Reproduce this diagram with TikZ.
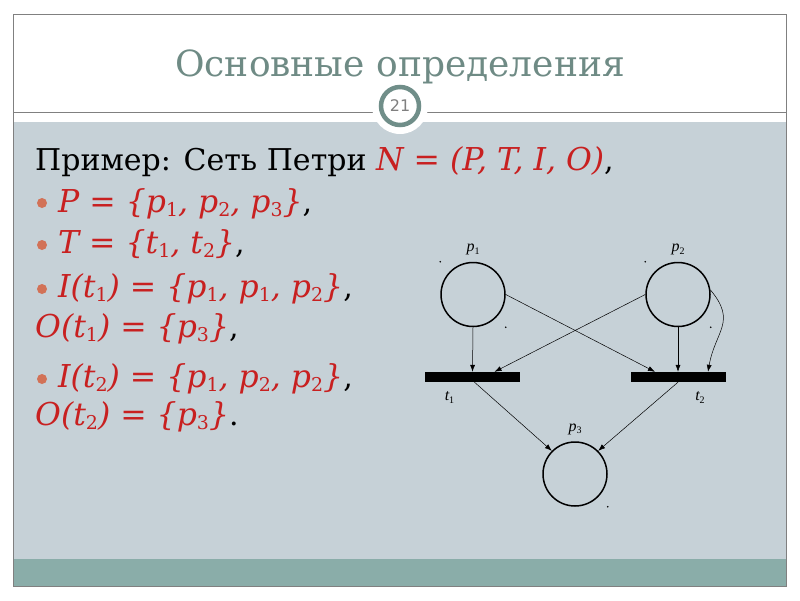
\documentclass[tikz,border=0pt]{standalone}
\usepackage{fontspec}
\setmainfont{DejaVu Serif}
\newfontfamily\titlefont{DejaVu Serif}
\newfontfamily\badgefont{DejaVu Sans}
\newfontfamily\petrifont{Liberation Serif}
\usetikzlibrary{positioning, calc, arrows.meta}
\definecolor{slideG}{RGB}{198, 209, 215}
\definecolor{slideT}{RGB}{138, 173, 169}
\definecolor{titleC}{RGB}{111, 139, 133}
\definecolor{ringC}{RGB}{112, 142, 137}
\definecolor{redC}{RGB}{200, 32, 32}
\definecolor{bulC}{RGB}{210, 114, 87}
\newcommand\rd[1]{{\color{redC}\fontsize{31.5}{34}\selectfont\itshape #1}}
\newcommand\sbx[1]{\raisebox{-0.3ex}{\fontsize{19}{19}\selectfont\upshape #1}}
\newcommand\pl[2]{{\petrifont\itshape #1\raisebox{-0.35ex}{\fontsize{10}{10}\selectfont\upshape #2}}}
\tikzset{
  place/.style={circle, draw, line width=1.5pt, minimum size=64pt, inner sep=0pt},
  trans/.style={rectangle, fill=black, minimum width=95pt, minimum height=10pt, inner sep=0pt},
  arc/.style={-{Latex[length=7pt,width=5pt]}, line width=0.5pt},
  plabel/.style={font=\fontsize{16}{16}\selectfont, label distance=3pt},
  line/.style={anchor=base west, inner sep=0pt, font=\fontsize{30}{34}\selectfont},
  bullet/.style={circle, fill=bulC, inner sep=0pt, minimum size=10pt}
}

\begin{document}
\begin{tikzpicture}[x=1pt, y=-1pt]
        \useasboundingbox (0,0) rectangle (800,600);
        \fill[white] (0,0) rectangle (800,600);

        % ── Slide frame, bands and title ──────────────────────────────────
        \fill[slideG] (13,122) rectangle (786,559);
        \fill[slideT] (13,559) rectangle (786,586);
        \draw[gray, line width=0.8pt] (13,14) rectangle (786,586);
        \draw[gray, line width=0.8pt] (13,112) -- (786,112);
        \node[font=\titlefont\fontsize{36}{40}\selectfont, text=titleC, anchor=base]
              (title) at (400,76) {Основные определения};

        % ── Page badge ───────────────────────────────────────────────────
        \fill[white] (400,106) circle (28);
        \node[circle, draw=ringC, line width=4.5pt, fill=white, minimum size=38pt,
              inner sep=0pt, text=gray, font=\badgefont\fontsize{16}{16}\selectfont]
              (badge) at (400,106) {21};

        % ── Definition text ──────────────────────────────────────────────
        \node[line] (l1) at (35,170)
              {Пример: Сеть Петри \rd{N = (P, T, I, O)},};
        \node[bullet] (b2) at (42,203) {};
        \node[line] (l2) at (58,212) {\rd{P = \{p\sbx{1}, p\sbx{2}, p\sbx{3}\}},};
        \node[bullet] (b3) at (42,245) {};
        \node[line] (l3) at (58,253) {\rd{T = \{t\sbx{1}, t\sbx{2}\}},};
        \node[bullet] (b4) at (42,289) {};
        \node[line] (l4) at (58,297) {\rd{I(t\sbx{1}) = \{p\sbx{1}, p\sbx{1}, p\sbx{2}\}},};
        \node[line] (l5) at (35,337) {\rd{O(t\sbx{1}) = \{p\sbx{3}\}},};
        \node[bullet] (b6) at (42,379) {};
        \node[line] (l6) at (58,387) {\rd{I(t\sbx{2}) = \{p\sbx{1}, p\sbx{2}, p\sbx{2}\}},};
        \node[line] (l7) at (35,425) {\rd{O(t\sbx{2}) = \{p\sbx{3}\}}.};

        % ── Petri net ────────────────────────────────────────────────────
        \node[place, label={[plabel]above:\pl{p}{1}}] (p1) at (473,294.5) {};
        \node[place, label={[plabel]above:\pl{p}{2}}] (p2) at (678,294.5) {};
        \node[place, label={[plabel]above:\pl{p}{3}}] (p3) at (575,474) {};
        \node[trans, label={[plabel, xshift=-23pt, label distance=6pt]below:\pl{t}{1}}]
              (t1) at (472.5,377) {};
        \node[trans, label={[plabel, xshift=22pt, label distance=6pt]below:\pl{t}{2}}]
              (t2) at (678,377) {};

        % corner dots
        \foreach \p in {p1, p2} {
          \fill (\p.west |- \p.north) circle (0.9);
        }
        \foreach \p in {p1, p2, p3} {
          \fill (\p.east |- \p.south) circle (0.9);
        }

        % arcs
        \draw[arc] (p1.south) -- (t1.north);
        \draw[arc] (p2.west) -- ([xshift=22pt]t1.north);
        \draw[arc] (p1.east) -- ([xshift=-23pt]t2.north);
        \draw[arc] (p2.south) -- (t2.north);
        \draw[arc] (p2.8) to[out=-50, in=80, looseness=1.3] ([xshift=30pt]t2.north);
        \draw[arc] ([xshift=2pt]t1.south) -- (p3.135);
        \draw[arc] (t2.south) -- (p3.45);
      \end{tikzpicture}
\end{document}
